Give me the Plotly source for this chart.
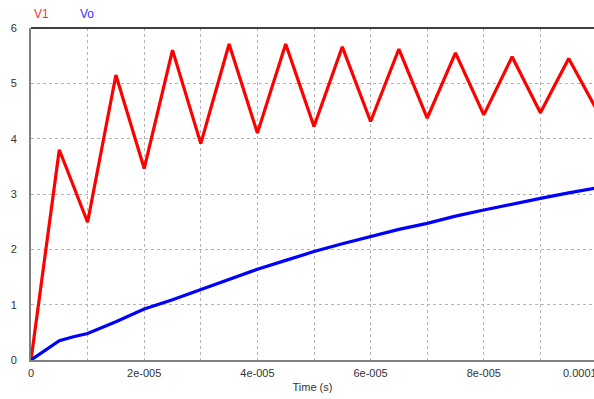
import plotly.graph_objects as go

# V1: piecewise-linear waveform read at its corners (time in seconds)
t_v1 = [0, 0.5e-5, 1.0e-5, 1.5e-5, 2.0e-5, 2.5e-5, 3.0e-5, 3.5e-5, 4.0e-5, 4.5e-5,
        5.0e-5, 5.5e-5, 6.0e-5, 6.5e-5, 7.0e-5, 7.5e-5, 8.0e-5, 8.5e-5, 9.0e-5, 9.5e-5, 1.0e-4]
v1 = [0, 3.80, 2.49, 5.15, 3.46, 5.60, 3.91, 5.71, 4.10, 5.71,
      4.22, 5.66, 4.31, 5.62, 4.37, 5.55, 4.43, 5.48, 4.47, 5.45, 4.51]

# Vo: smooth rising curve
t_vo = [0, 0.25e-5, 0.5e-5, 0.75e-5, 1.0e-5, 1.5e-5, 2.0e-5, 2.5e-5, 3.0e-5, 3.5e-5,
        4.0e-5, 4.5e-5, 5.0e-5, 5.5e-5, 6.0e-5, 6.5e-5, 7.0e-5, 7.5e-5, 8.0e-5, 8.5e-5,
        9.0e-5, 9.5e-5, 1.0e-4]
vo = [0, 0.18, 0.35, 0.42, 0.48, 0.69, 0.92, 1.09, 1.27, 1.45,
      1.64, 1.80, 1.96, 2.10, 2.23, 2.36, 2.47, 2.60, 2.71, 2.82,
      2.92, 3.02, 3.11]

x_tickvals = [0, 2e-5, 4e-5, 6e-5, 8e-5]
x_ticktext = ["0", "2e-005", "4e-005", "6e-005", "8e-005"]
y_tickvals = [0, 1, 2, 3, 4, 5, 6]

W, H = 594, 399
L, R, T, B = 31, 0, 28, 39
x_end = 1e-4 * (W - L) / (597 - L)  # reference plot is cropped just before 1e-4

fig = go.Figure()
fig.add_trace(go.Scatter(x=t_v1, y=v1, mode="lines", line=dict(color="#ff0000", width=3.2),
                         showlegend=False))
fig.add_trace(go.Scatter(x=t_vo, y=vo, mode="lines", line=dict(color="#0000ff", width=3.2),
                         showlegend=False))

fig.update_layout(
    width=W, height=H,
    margin=dict(l=L, r=R, t=T, b=B),
    paper_bgcolor="white", plot_bgcolor="white",
    font=dict(family="Liberation Sans, Arial, sans-serif", size=11, color="#333333"),
    xaxis=dict(
        range=[0, x_end], tickmode="array", tickvals=x_tickvals, ticktext=x_ticktext,
        showgrid=True, gridcolor="#b4b4b4", griddash="dot", gridwidth=1,
        minor=dict(dtick=1e-5, tick0=0, showgrid=True, gridcolor="#b4b4b4", griddash="dot", gridwidth=1),
        showline=True, linecolor="#808080", linewidth=2, zeroline=False,
        ticks="", ticklabelstandoff=2,
        title=dict(text="Time (s)", font=dict(size=11, color="#333333"), standoff=5),
    ),
    yaxis=dict(
        range=[0, 6], tickmode="array", tickvals=y_tickvals,
        showgrid=True, gridcolor="#b4b4b4", griddash="dot", gridwidth=1,
        showline=True, linecolor="#808080", linewidth=2, zeroline=False,
        ticks="", ticklabelstandoff=10,
    ),
    shapes=[dict(type="line", xref="paper", yref="paper", x0=0, x1=1, y0=1, y1=1,
                 line=dict(color="black", width=1.5))],
    annotations=[
        dict(text="V1", xref="paper", yref="paper", x=(32 - L) / (W - L), y=1 + 14 / (H - T - B),
             xanchor="left", yanchor="middle", showarrow=False,
             font=dict(size=12, color="#ff3030")),
        dict(text="Vo", xref="paper", yref="paper", x=(78 - L) / (W - L), y=1 + 14 / (H - T - B),
             xanchor="left", yanchor="middle", showarrow=False,
             font=dict(size=12, color="#3030ff")),
        dict(text="0.0001", xref="paper", yref="paper", x=(561 - L) / (W - L), y=-13 / (H - T - B),
             xanchor="left", yanchor="middle", showarrow=False,
             font=dict(size=11, color="#333333")),
    ],
)

fig.write_html("out.html")
